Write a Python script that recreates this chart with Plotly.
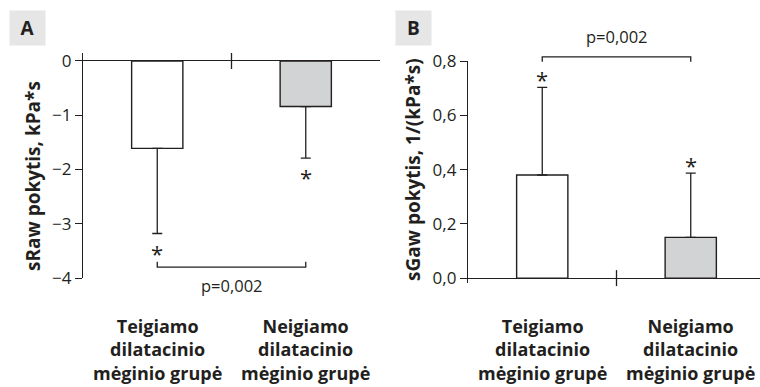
import plotly.graph_objects as go

# ---------------- data ----------------
categories = ["Teigiamo<br>dilatacinio<br>mėginio grupė",
              "Neigiamo<br>dilatacinio<br>mėginio grupė"]
cat_pos = [0.5, 1.5]
sraw_mean = [-1.61, -0.84]
sraw_sd = [1.57, 0.95]
sgaw_mean = [0.38, 0.15]
sgaw_sd = [0.323, 0.237]
sraw_ticks = [0, -1, -2, -3, -4]
sraw_ticktext = ["0", "−1", "−2", "−3", "−4"]
sgaw_ticks = [0, 0.2, 0.4, 0.6, 0.8]
sgaw_ticktext = ["0,0", "0,2", "0,4", "0,6", "0,8"]
p_text = "p=0,002"
ytitle_a = "sRaw pokytis, kPa*s"
ytitle_b = "sGaw pokytis, 1/(kPa*s)"
panel_labels = ["A", "B"]

# ---------------- style ----------------
W, H = 760, 387
INK = "#231f20"
bar_fill = ["#ffffff", "#d1d3d4"]
FONT = "Open Sans"
bar_w = 0.345

xr_a = [0, 2]
yr_a = [-4, 0.147]
xr_b = [0, (760 - 468) / 148.5]
yr_b = [-0.018, 0.8]


def fx(v, r):
    return (v - r[0]) / (r[1] - r[0])


fig = go.Figure()

# Panel A bars
fig.add_trace(go.Bar(
    x=cat_pos, y=sraw_mean, width=bar_w,
    marker=dict(color=bar_fill, line=dict(color=INK, width=1.4)),
    error_y=dict(type="data", symmetric=False, array=[0, 0], arrayminus=sraw_sd,
                 color=INK, thickness=1.3, width=5),
    xaxis="x", yaxis="y", showlegend=False, hoverinfo="skip"))

# Panel B bars
fig.add_trace(go.Bar(
    x=cat_pos, y=sgaw_mean, width=bar_w,
    marker=dict(color=bar_fill, line=dict(color=INK, width=1.4)),
    error_y=dict(type="data", symmetric=False, array=sgaw_sd, arrayminus=[0, 0],
                 color=INK, thickness=1.3, width=5),
    xaxis="x2", yaxis="y2", showlegend=False, hoverinfo="skip"))

axis_common = dict(showgrid=False, fixedrange=True, automargin=False)
TICKFONT = dict(size=17, color=INK)
fig.update_layout(
    width=W, height=H,
    margin=dict(l=0, r=0, t=0, b=0, autoexpand=False),
    paper_bgcolor="white", plot_bgcolor="rgba(0,0,0,0)",
    font=dict(family=FONT, color=INK),
    xaxis=dict(domain=[83 / W, 380 / W], range=xr_a, showline=False,
               showticklabels=False, ticks="", zeroline=False, **axis_common),
    yaxis=dict(domain=[1 - 278 / H, 1 - 53 / H], range=yr_a, showline=True,
               linecolor=INK, linewidth=1.3, ticks="outside", ticklen=7,
               tickwidth=1.3, tickcolor=INK, tickvals=sraw_ticks,
               ticktext=sraw_ticktext, tickfont=TICKFONT,
               zeroline=True, zerolinecolor=INK, zerolinewidth=1.3,
               anchor="x", **axis_common),
    xaxis2=dict(domain=[468 / W, 1.0], range=xr_b, showline=False,
                showticklabels=False, ticks="", zeroline=False, anchor="y2",
                **axis_common),
    yaxis2=dict(domain=[1 - 283 / H, 1 - 61 / H], range=yr_b, showline=True,
                linecolor=INK, linewidth=1.3, ticks="outside", ticklen=7,
                tickwidth=1.3, tickcolor=INK, tickvals=sgaw_ticks,
                ticktext=sgaw_ticktext, tickfont=TICKFONT,
                zeroline=True, zerolinecolor=INK, zerolinewidth=1.3,
                anchor="x2", **axis_common),
)

shapes = []
annotations = []
line = dict(color=INK, width=1.3)

# center ticks crossing the zero line
shapes.append(dict(type="line", xref="x", yref="y", x0=1, x1=1,
                   ysizemode="pixel", yanchor=0, y0=-8, y1=8, line=line))
shapes.append(dict(type="line", xref="x2 domain", yref="y2 domain",
                   x0=fx(1, xr_b), x1=fx(1, xr_b),
                   y0=fx(0, yr_b) - 8 / 222, y1=fx(0, yr_b) + 8 / 222, line=line))

# Panel A significance bracket (below)
br_a, tip_a = -3.80, -3.70
shapes.append(dict(type="path", xref="x", yref="y",
                   path=f"M {cat_pos[0]},{tip_a} L {cat_pos[0]},{br_a} L {cat_pos[1]},{br_a} L {cat_pos[1]},{tip_a}",
                   line=line))
annotations.append(dict(x=1, y=br_a, xref="x", yref="y", text=p_text,
                        showarrow=False, yshift=-18, font=dict(size=16.5, color=INK)))

# Panel B significance bracket (above)
br_b, tip_b = 0.815, 0.797
bx0, bx1 = fx(cat_pos[0], xr_b), fx(cat_pos[1], xr_b)
by, bt = fx(br_b, yr_b), fx(tip_b, yr_b)
shapes.append(dict(type="path", xref="x2 domain", yref="y2 domain",
                   path=f"M {bx0},{bt} L {bx0},{by} L {bx1},{by} L {bx1},{bt}",
                   line=line))
annotations.append(dict(x=1, y=0.8, xref="x2", yref="y2", text=p_text,
                        showarrow=False, yshift=25, font=dict(size=16.5, color=INK)))

# asterisks
for xp, m, s in zip(cat_pos, sraw_mean, sraw_sd):
    annotations.append(dict(x=xp, y=m - s, xref="x", yref="y", text="*",
                            showarrow=False, yshift=-19,
                            font=dict(size=22, color=INK)))
for xp, m, s in zip(cat_pos, sgaw_mean, sgaw_sd):
    annotations.append(dict(x=xp, y=m + s, xref="x2", yref="y2", text="*",
                            showarrow=False, yshift=8,
                            font=dict(size=22, color=INK)))

# category labels
for xp, c in zip(cat_pos, categories):
    for xr in ("x", "x2"):
        annotations.append(dict(x=xp, y=1 - 349 / H, xref=xr, yref="paper",
                                text=f"<b>{c}</b>", showarrow=False,
                                xanchor="center", yanchor="middle",
                                font=dict(size=18, color=INK)))

# y axis titles
annotations.append(dict(x=33 / W, y=1 - 176 / H, xref="paper", yref="paper",
                        text=f"<b>{ytitle_a}</b>", textangle=-90, showarrow=False,
                        xanchor="center", yanchor="middle",
                        font=dict(size=19, color=INK)))
annotations.append(dict(x=413 / W, y=1 - 170 / H, xref="paper", yref="paper",
                        text=f"<b>{ytitle_b}</b>", textangle=-90, showarrow=False,
                        xanchor="center", yanchor="middle",
                        font=dict(size=19, color=INK)))

# panel letters
for cx, lab in zip([27.5, 413.5], panel_labels):
    annotations.append(dict(x=cx / W, y=1 - 28 / H, xref="paper", yref="paper",
                            text=f"<b>{lab}</b>", showarrow=False,
                            xanchor="center", yanchor="middle",
                            width=35, height=34, bgcolor="#e6e6e7", borderpad=0,
                            font=dict(size=19, color=INK)))

fig.update_layout(shapes=shapes, annotations=annotations)
fig.write_html("out.html", config={"displayModeBar": False},
               post_script="document.body.style.margin='0';document.body.style.padding='0';")
